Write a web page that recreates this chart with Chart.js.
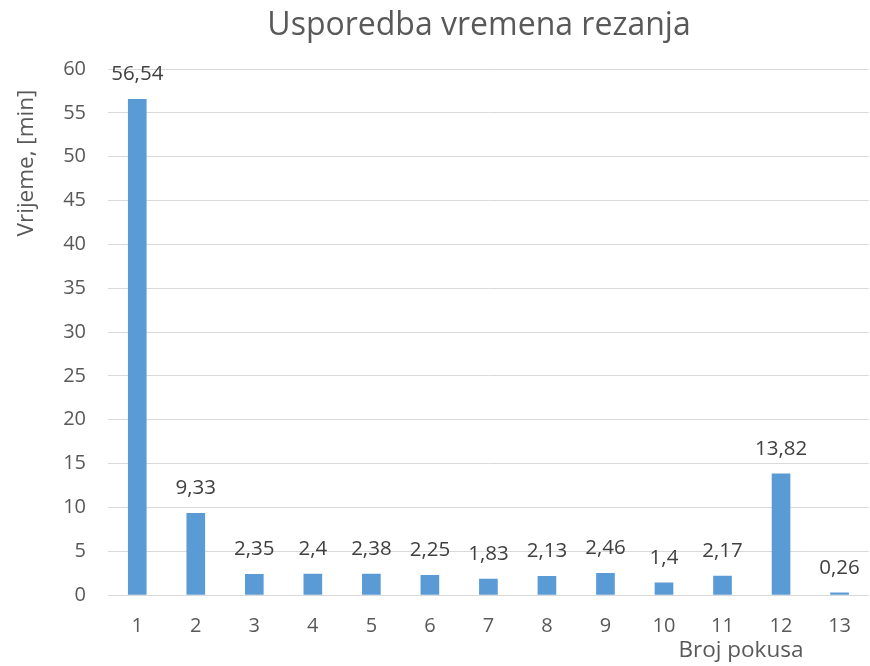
<!DOCTYPE html>
<html>
<head>
<meta charset="utf-8">
<script src="https://cdn.jsdelivr.net/npm/chart.js@4/dist/chart.umd.min.js"></script>
<style>
  html, body { margin: 0; padding: 0; background: #ffffff; }
  #wrap { width: 870px; height: 666px; position: relative; }
</style>
</head>
<body>
<div id="wrap"><canvas id="c" width="870" height="666"></canvas></div>
<script>
// Broj pokusa (attempt number) and cutting time in minutes
const categories = ['1', '2', '3', '4', '5', '6', '7', '8', '9', '10', '11', '12', '13'];
const cuttingTimes = [56.54, 9.33, 2.35, 2.4, 2.38, 2.25, 1.83, 2.13, 2.46, 1.4, 2.17, 13.82, 0.26];
const yTicks = [0, 5, 10, 15, 20, 25, 30, 35, 40, 45, 50, 55, 60];

const chartTitle = 'Usporedba vremena rezanja';
const yAxisTitle = 'Vrijeme, [min]';
const xAxisTitle = 'Broj pokusa';

const FONT = '"Open Sans", "Noto Sans", sans-serif';
const TEXT = '#595959';

// Value labels above each bar, written with a decimal comma
const valueLabels = {
  id: 'valueLabels',
  afterDatasetsDraw(chart) {
    const ctx = chart.ctx;
    const meta = chart.getDatasetMeta(0);
    ctx.save();
    ctx.font = '20.5px ' + FONT;
    ctx.fillStyle = '#404040';
    ctx.textAlign = 'center';
    ctx.textBaseline = 'alphabetic';
    meta.data.forEach((bar, i) => {
      const txt = String(cuttingTimes[i]).replace('.', ',');
      ctx.fillText(txt, bar.x, bar.y - 19);
    });
    ctx.restore();
  }
};

// Chart title and the two axis titles
const titles = {
  id: 'titles',
  afterDraw(chart) {
    const ctx = chart.ctx;
    ctx.save();
    ctx.fillStyle = TEXT;
    ctx.textAlign = 'center';
    ctx.textBaseline = 'middle';
    ctx.font = '32px ' + FONT;
    ctx.fillText(chartTitle, 479, 26);
    ctx.font = '22.5px ' + FONT;
    ctx.fillText(xAxisTitle, 741, 651);
    ctx.translate(27, 163);
    ctx.rotate(-Math.PI / 2);
    ctx.fillText(yAxisTitle, 0, 0);
    ctx.restore();
  }
};

new Chart(document.getElementById('c'), {
  type: 'bar',
  data: {
    labels: categories,
    datasets: [{
      data: cuttingTimes,
      backgroundColor: '#5B9BD5',
      borderWidth: 0,
      barThickness: 18
    }]
  },
  options: {
    responsive: false,
    animation: false,
    events: [],
    layout: { padding: { top: 69, right: -2, bottom: 0, left: 0 } },
    plugins: {
      legend: { display: false },
      title: { display: false },
      tooltip: { enabled: false }
    },
    scales: {
      x: {
        grid: { display: false, drawTicks: false },
        border: { display: false },
        ticks: { color: TEXT, font: { family: FONT, size: 20 }, padding: 19, maxRotation: 0 },
        afterFit(scale) { scale.height = 71; }
      },
      y: {
        min: 0,
        max: 60,
        afterBuildTicks(scale) { scale.ticks = yTicks.map(v => ({ value: v })); },
        grid: { color: '#d9d9d9', lineWidth: 1, drawTicks: false },
        border: { display: false },
        ticks: { color: TEXT, font: { family: FONT, size: 20 }, padding: 22 },
        afterFit(scale) { scale.width = 108; }
      }
    }
  },
  plugins: [valueLabels, titles]
});
</script>
</body>
</html>
